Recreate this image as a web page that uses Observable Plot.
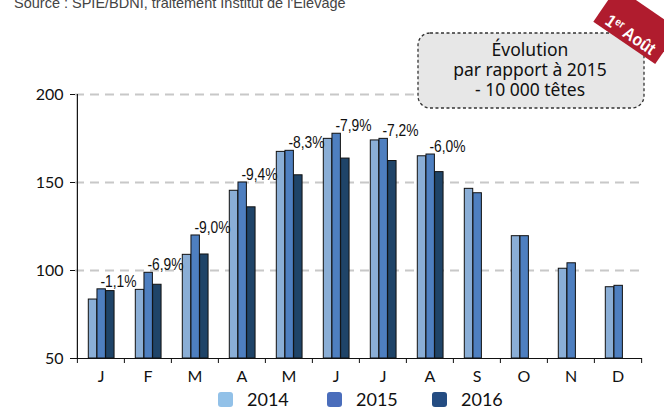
<!DOCTYPE html>
<html><head><meta charset="utf-8">
<script src="https://cdn.jsdelivr.net/npm/d3@7"></script>
<script src="https://cdn.jsdelivr.net/npm/@observablehq/plot@0.6"></script>
<style>
body{margin:0;background:#fff;width:664px;height:407px;overflow:hidden;position:relative;font-family:Lato,"Liberation Sans",sans-serif}
#chart{position:absolute;left:0;top:0}
#legend{position:absolute;left:218px;top:390px;width:400px;height:20px;font-size:18px;line-height:18px;color:#111}
.item{position:absolute;top:0;display:flex;align-items:center}
.sw{width:15px;height:15px;border-radius:3px;margin-right:14px}
</style></head><body><div id="chart"></div><div id="legend"></div>
<script>
const monthKeys = ["jan","feb","mar","apr","may","jun","jul","aug","sep","oct","nov","dec"];
const monthLabels = ["J","F","M","A","M","J","J","A","S","O","N","D"];
const years = ["2014","2015","2016"];
const v2014 = [83.5, 89.0, 108.9, 145.3, 167.4, 174.8, 173.9, 164.9, 146.4, 119.5, 101.0, 90.5];
const v2015 = [89.3, 98.7, 119.9, 150.0, 168.0, 177.7, 174.8, 165.9, 143.9, 119.5, 104.1, 91.3];
const v2016 = [88.3, 91.9, 109.1, 135.9, 154.1, 163.6, 162.2, 155.9, null, null, null, null];
const changes = ["-1,1%","-6,9%","-9,0%","-9,4%","-8,3%","-7,9%","-7,2%","-6,0%", null, null, null, null];
const yDomain = [50, 200];
const yTicks = [50, 100, 150, 200];
const gridTicks = [100, 150, 200];
const barColors = ["#8aaed6", "#4e7fc0", "#1f4468"];
const legendColors = ["#92c1e8", "#4a6dbb", "#244c82"];
const sourceText = "Source : SPIE/BDNI, traitement Institut de l'Elevage";
const boxLines = ["Évolution", "par rapport à 2015", "- 10 000 têtes"];

const W = 664, H = 386, mL = 75, mR = 22, mT = 94, mB = 28;
const bw = (W - mL - mR) / monthKeys.length;
const barStart = 11.3, barW = 8.67;
const series = [v2014, v2015, v2016];
const label = new Map(monthKeys.map((k, i) => [k, monthLabels[i]]));

const rows = monthKeys.map((m, i) => ({month: m, v2014: v2014[i], v2015: v2015[i], v2016: v2016[i], change: changes[i]}));

const barMarks = series.map((s, k) => Plot.barY(
  monthKeys.map((m, i) => ({month: m, value: s[i]})).filter(d => d.value != null),
  {x: "month", y1: yDomain[0], y2: "value", fill: barColors[k], stroke: "#111", strokeWidth: 1,
   insetLeft: barStart + barW * k, insetRight: bw - barStart - barW * (k + 1)}
));

const sans = "'Liberation Sans',Arial,sans-serif";

const plot = Plot.plot({
  width: W, height: H,
  marginLeft: mL, marginRight: mR, marginTop: mT, marginBottom: mB,
  style: {fontFamily: "Lato, 'Liberation Sans', sans-serif", background: "transparent", color: "#111"},
  x: {domain: monthKeys, padding: 0},
  y: {domain: yDomain},
  marks: [
    Plot.ruleY(gridTicks, {stroke: "#c8c8c8", strokeWidth: 2, strokeDasharray: "9,6"}),
    ...barMarks,
    Plot.ruleY([yDomain[0]], {stroke: "#111", strokeWidth: 1.2}),
    Plot.ruleX([monthKeys[0]], {dx: -bw / 2, y1: yDomain[0], y2: yDomain[1], stroke: "#111", strokeWidth: 1.2}),
    Plot.axisY({ticks: yTicks, tickSize: 5, tickPadding: 7, fontSize: 16, label: null, stroke: "#111"}),
    Plot.axisX({ticks: monthKeys, tickSize: 5, dx: -bw / 2, text: null, label: null, stroke: "#111"}),
    Plot.axisX({ticks: [monthKeys[monthKeys.length - 1]], tickSize: 5, dx: bw / 2, text: null, label: null, stroke: "#111"}),
    Plot.axisX({ticks: monthKeys, tickSize: 0, tickPadding: 12, fontSize: 16, tickFormat: d => label.get(d), label: null}),
    Plot.text(rows.filter(d => d.change), {x: "month", y: "v2015", text: "change", dx: 17.5, dy: -8,
      fontSize: 16.5, fontFamily: sans, fill: "#111"})
  ]
});
document.getElementById("chart").append(plot);

const svg = d3.select(plot);
// condense the percentage labels (narrow typeface look)
svg.selectAll("text").filter(function() { return /%$/.test(this.textContent); }).each(function() {
  const el = d3.select(this);
  const x = this.getAttribute("x"), y = this.getAttribute("y");
  const s = 0.84;
  if (x != null) el.attr("transform", `translate(${x},${y || 0}) scale(${s},1) translate(${-x},${-(y || 0)})`);
  else el.attr("transform", (el.attr("transform") || "") + ` scale(${s},1)`);
});

svg.append("text").attr("x", 14).attr("y", 8).attr("font-size", 14.5).attr("text-anchor", "start")
  .attr("font-family", sans).attr("fill", "#444").text(sourceText);

const box = svg.append("g");
box.append("rect").attr("x", 418).attr("y", 33).attr("width", 226).attr("height", 75).attr("rx", 12)
  .attr("fill", "#e7e7e7").attr("stroke", "#333").attr("stroke-width", 1.3).attr("stroke-dasharray", "3,2.5");
box.selectAll("text.bl").data(boxLines).join("text").attr("class", "bl")
  .attr("x", 530).attr("y", (d, i) => 56 + i * 20).attr("text-anchor", "middle")
  .attr("font-size", 17.5).attr("font-family", "'Noto Sans','Open Sans',sans-serif").attr("fill", "#111").text(d => d);

const badge = svg.append("g").attr("transform", "translate(593.3,21.7) rotate(34.4)");
badge.append("rect").attr("x", 0).attr("y", -42).attr("width", 75).attr("height", 42).attr("fill", "#b01c2e");
const bt = badge.append("text").attr("text-anchor", "middle")
  .attr("transform", "translate(38,-4.5) scale(0.88,1)")
  .attr("font-size", 17.5).attr("font-weight", "bold")
  .attr("font-family", sans).attr("fill", "#fff");
bt.append("tspan").text("1");
bt.append("tspan").attr("dy", -6).attr("font-size", 11).text("er");
bt.append("tspan").attr("dy", 6).text(" Août");

const leg = d3.select("#legend");
const offs = [0, 109, 214];
years.forEach((y, i) => {
  const it = leg.append("div").attr("class", "item").style("left", offs[i] + "px");
  it.append("div").attr("class", "sw").style("background", legendColors[i]);
  it.append("span").text(y);
});
</script></body></html>
